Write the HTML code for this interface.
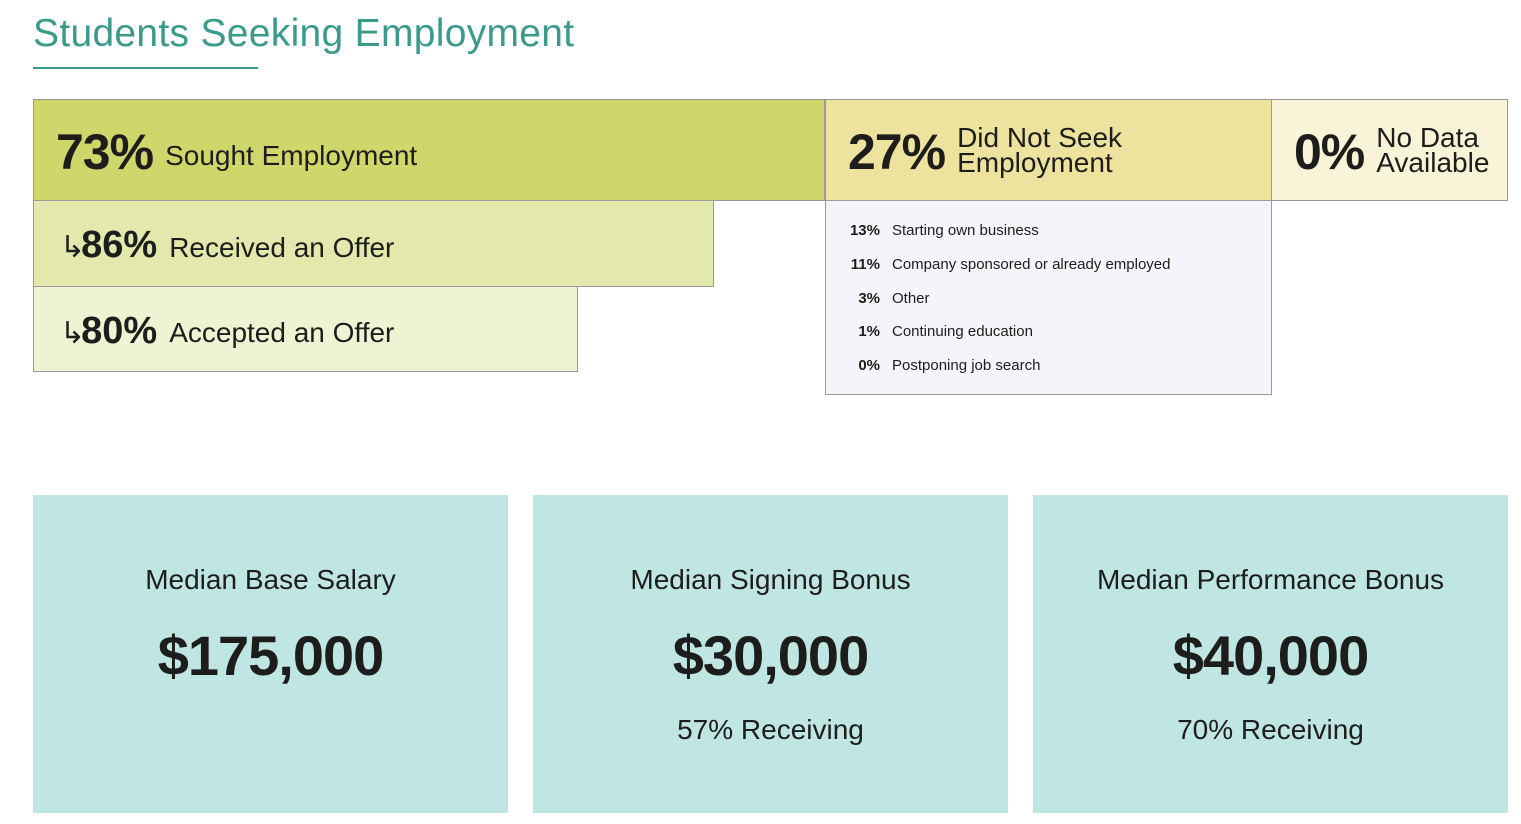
<!DOCTYPE html>
<html><head><meta charset="utf-8"><style>
body{margin:0;width:1521px;height:824px;background:#fff;font-family:"Liberation Sans",sans-serif;color:#1d1d1b;position:relative;overflow:hidden}
.a{position:absolute;box-sizing:border-box}
.bar{border:1px solid #9a9a9a;display:flex;align-items:center}
.big{font-weight:bold;font-size:50px;letter-spacing:-1px}
.lbl{font-size:28px;margin-left:12px}
.mid{font-weight:bold;font-size:38px}
.two{font-size:28px;line-height:25px;margin-left:12px}
.row{position:absolute;left:0;font-size:15px}
.row b{display:inline-block;width:54px;text-align:right;font-weight:bold;margin-right:12px}
.card{background:#bfe6e3;text-align:center}
.card .t{position:absolute;top:69px;width:100%;font-size:28px}
.card .v{position:absolute;top:128px;width:100%;font-size:56px;font-weight:bold;letter-spacing:-1px}
.card .r{position:absolute;top:219px;width:100%;font-size:28px}
</style></head><body>
<div class="a" style="left:33px;top:12px;font-size:39px;color:#3a9a8c;letter-spacing:0.3px">Students Seeking Employment</div>
<div class="a" style="left:33px;top:67px;width:225px;height:2px;background:#3a9a8c"></div>
<div id="chart"></div>
<div id="cards"></div>
<script>
const soughtPct=73, notSeekPct=27, noDataPct=0;
const receivedPct=86, acceptedPct=80;
const reasonLabels=["Starting own business","Company sponsored or already employed","Other","Continuing education","Postponing job search"];
const reasonValues=[13,11,3,1,0];
const cardTitles=["Median Base Salary","Median Signing Bonus","Median Performance Bonus"];
const cardValues=["$175,000","$30,000","$40,000"];
const cardReceiving=[null,57,70];

const c=document.getElementById('chart');
function box(x,y,w,h,bg,name,html,extra){const d=document.createElement('div');d.className='a bar';d.style.cssText=`left:${x}px;top:${y}px;width:${w}px;height:${h}px;background:${bg};`+(extra||'');


d.innerHTML=html;c.appendChild(d);return d;}
const soughtW=791;
box(33,99,soughtW+1,102,'#cfd66a','sought-employment-bar',`<span class="big" style="margin-left:22px;position:relative;top:2px">${soughtPct}%</span><span class="lbl" style="position:relative;top:6px">Sought Employment</span>`);
const recW=Math.round(soughtW*receivedPct/100);
box(33,200,recW+1,87,'#e3e8ad','received-offer-bar',`<span style="font-size:30px;margin-left:26px;position:relative;top:4px">↳</span><span class="mid" style="margin-left:-4px;position:relative;top:2px">${receivedPct}%</span><span class="lbl" style="position:relative;top:4px">Received an Offer</span>`);
const accW=Math.round(recW*acceptedPct/100);
box(33,286,accW+1,86,'#eef3d3','accepted-offer-bar',`<span style="font-size:30px;margin-left:26px;position:relative;top:4px">↳</span><span class="mid" style="margin-left:-4px;position:relative;top:2px">${acceptedPct}%</span><span class="lbl" style="position:relative;top:4px">Accepted an Offer</span>`);
box(825,99,447,102,'#ede39f','did-not-seek-bar',`<span class="big" style="margin-left:22px;position:relative;top:2px">${notSeekPct}%</span><span class="two">Did Not Seek<br>Employment</span>`);
box(1271,99,237,102,'#f9f4d8','no-data-bar',`<span class="big" style="margin-left:22px;position:relative;top:2px">${noDataPct}%</span><span class="two">No Data<br>Available</span>`);
const lst=box(825,200,447,195,'#f4f5fa','reasons-list','','display:block;');
reasonLabels.forEach((l,i)=>{const r=document.createElement('div');r.className='row';r.style.top=(21+i*33.8)+'px';


r.innerHTML=`<b>${reasonValues[i]}%</b>${l}`;lst.appendChild(r);});

const cc=document.getElementById('cards');
cardTitles.forEach((t,i)=>{const d=document.createElement('div');d.className='a card';d.style.cssText=`left:${33+i*500}px;top:495px;width:475px;height:318px`;


d.innerHTML=`<div class="t">${t}</div><div class="v">${cardValues[i]}</div>`+(cardReceiving[i]!=null?`<div class="r">${cardReceiving[i]}% Receiving</div>`:'');
cc.appendChild(d);});
</script>
</body></html>
